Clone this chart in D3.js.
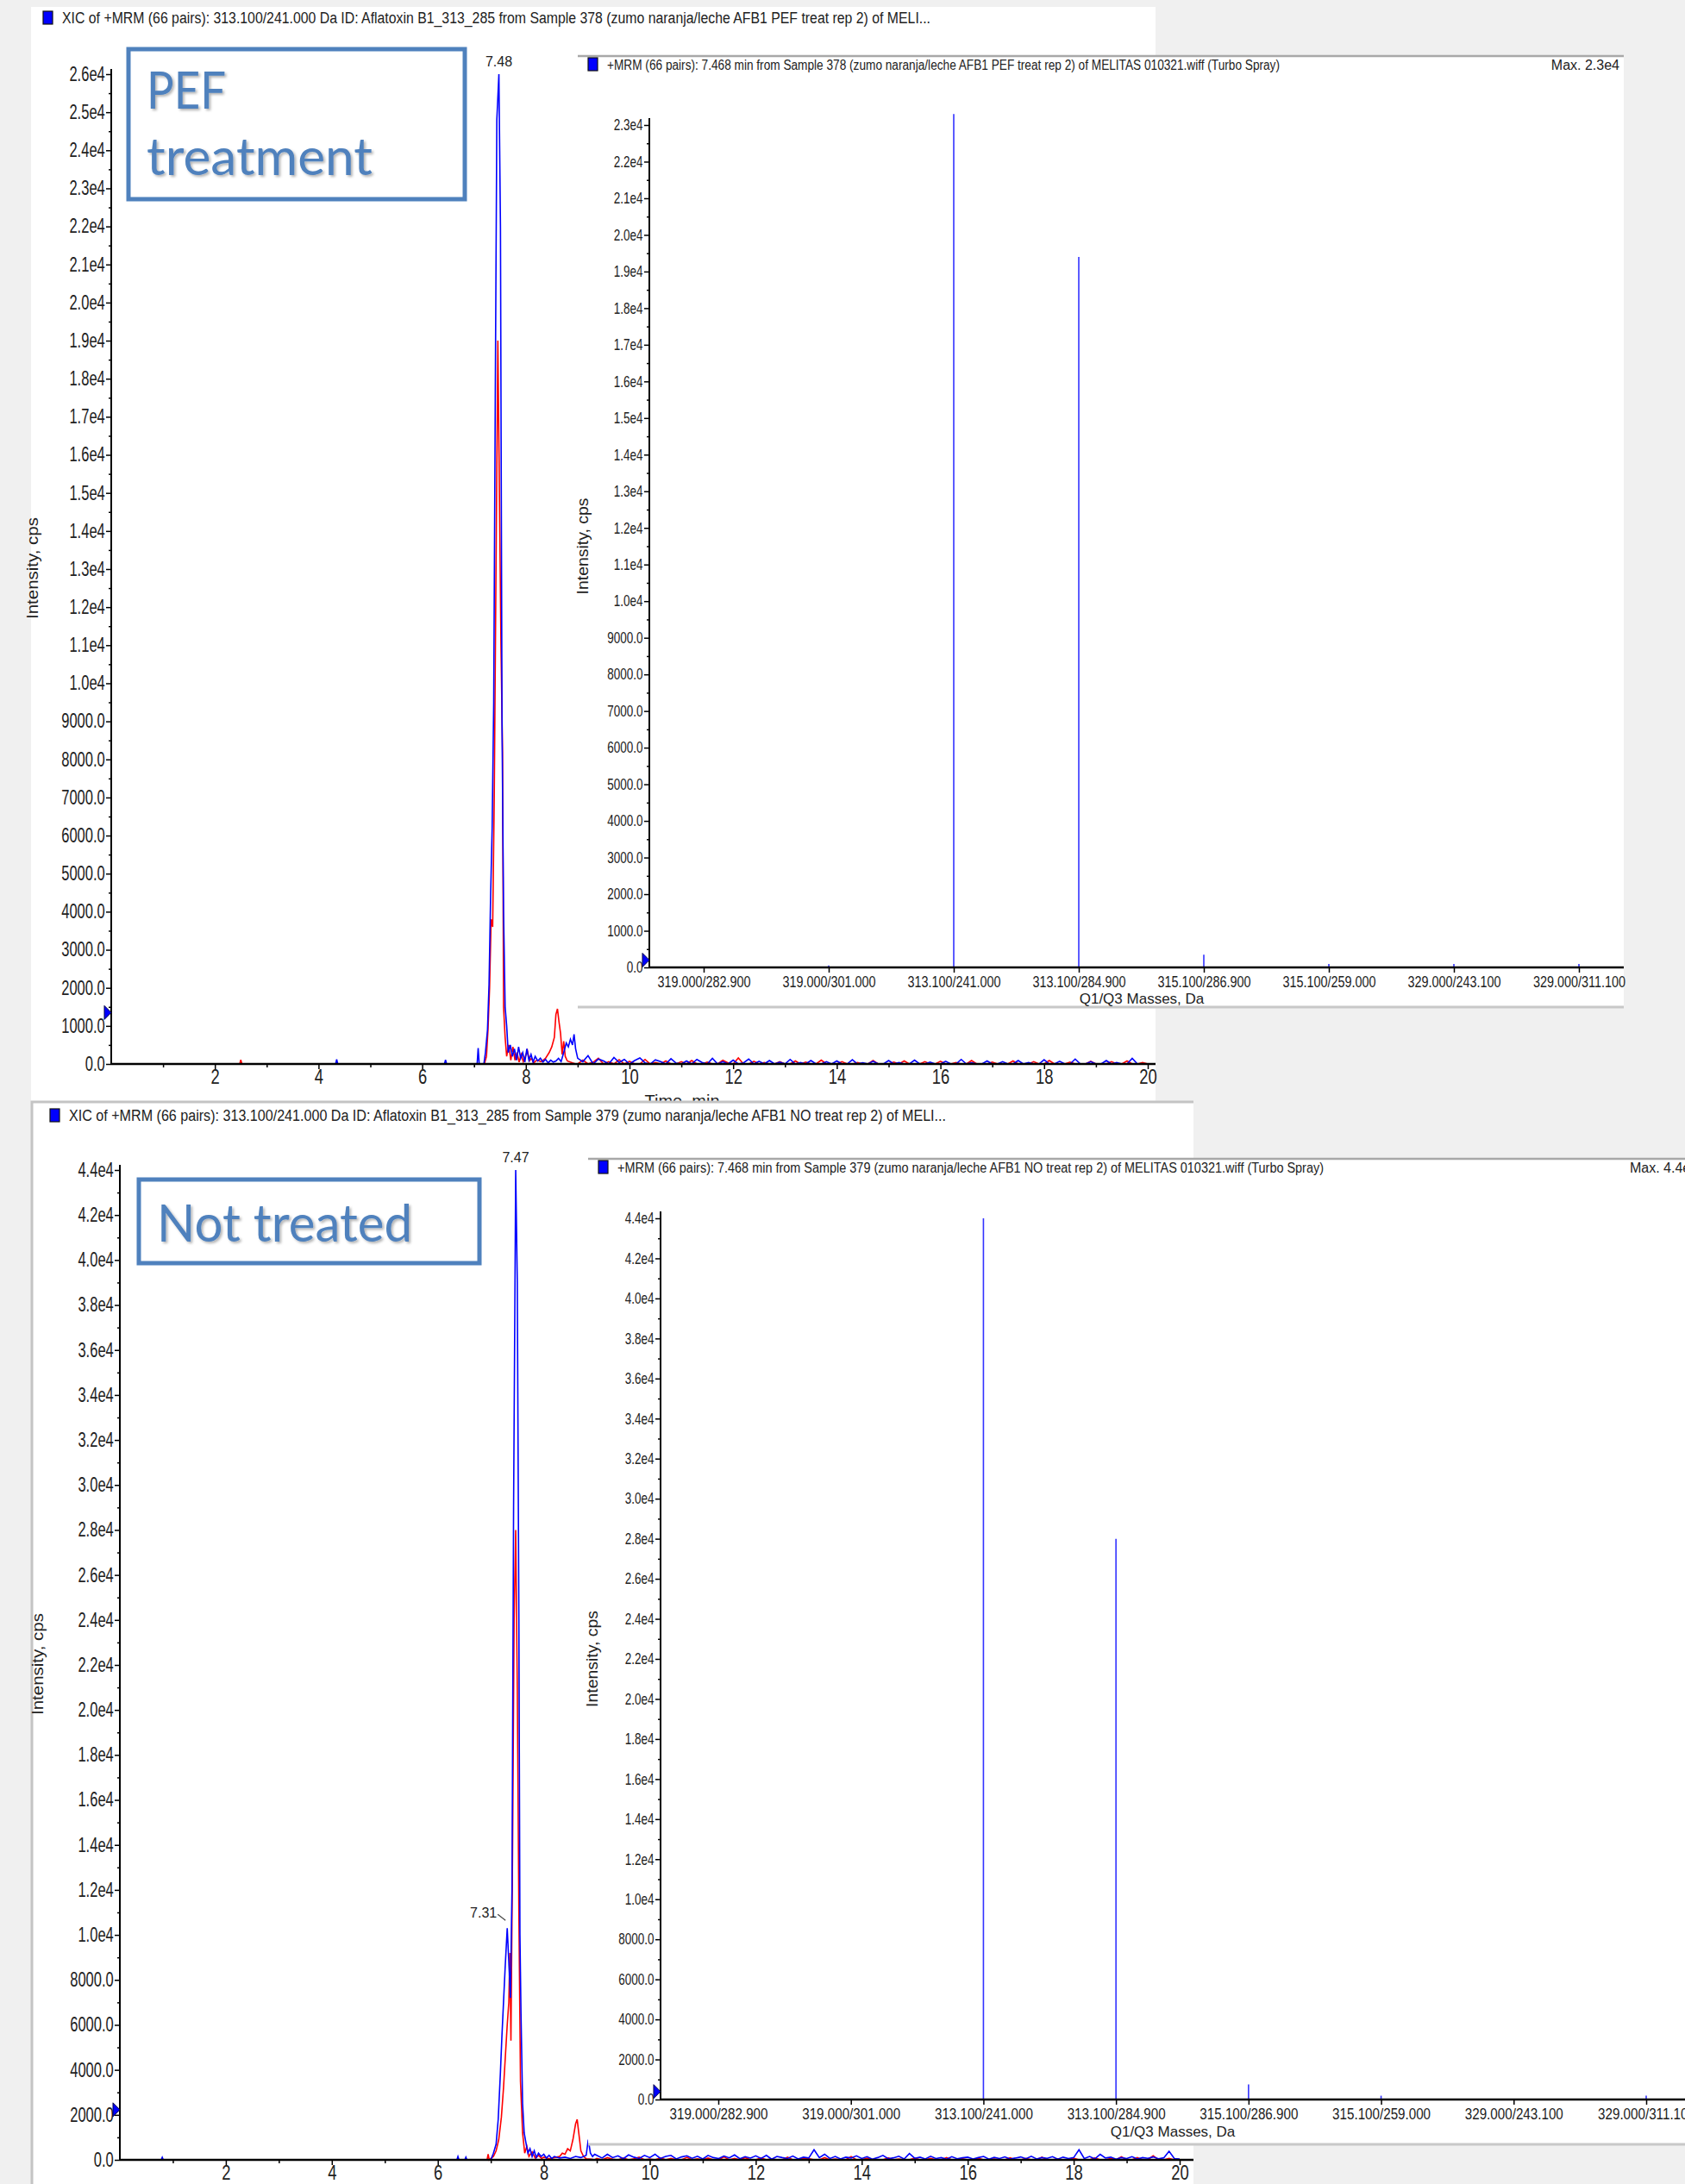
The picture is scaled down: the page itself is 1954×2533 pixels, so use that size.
<!DOCTYPE html>
<html>
<head>
<meta charset="utf-8">
<script src="https://cdn.jsdelivr.net/npm/d3@7"></script>
<style>
  body { margin: 0; background: #f0f0f0; }
  svg text { font-family: "Liberation Sans Narrow", "Arial Narrow", "Liberation Sans", sans-serif; fill: #222; }
  .axis line { stroke: #000; stroke-width: 1.5px; }
  .axis path { display: none; }
  .boxtext { font-family: Lato, "Open Sans", sans-serif !important; fill: #4f81bd !important; }
</style>
</head>
<body>
<svg id="fig" width="1954" height="2533"></svg>
<script>
// ---------- data ----------
const categories = ["319.000/282.900", "319.000/301.000", "313.100/241.000", "313.100/284.900",
                    "315.100/286.900", "315.100/259.000", "329.000/243.100", "329.000/311.100"];
const pefSpectrum = [0, 55, 23300, 19400, 350, 95, 95, 95];
const ntSpectrum = [0, 0, 44000, 28000, 750, 190, 0, 190];

// chromatogram traces: [time, cps] up to 9 min, then noise every 0.1 min from 9.0 to 20.0
const pefBlue = [[0,0],[4.33,0],[4.35,120],[4.37,0],[6.43,0],[6.45,110],[6.47,0],[7.06,0],[7.08,420],[7.10,0],
  [7.19,0],[7.22,300],[7.26,900],[7.29,2100],[7.32,4400],[7.35,6200],[7.38,9500],[7.41,17500],[7.44,24800],
  [7.48,26000],[7.51,22000],[7.54,9000],[7.57,4000],[7.60,1500],[7.63,1000],[7.66,300],[7.70,500],[7.74,200],
  [7.78,400],[7.82,100],[7.86,450],[7.90,150],[7.94,300],[7.98,50],[8.02,400],[8.06,100],[8.10,250],[8.14,50],
  [8.18,200],[8.23,80],[8.28,150],[8.33,50],[8.38,120],[8.43,30],[8.48,100],[8.53,50],[8.58,80],[8.63,150],
  [8.68,60],[8.73,300],[8.78,550],[8.82,450],[8.86,650],[8.90,500],[8.93,780],[8.96,400]];
const pefBlueNoise = [150,60,220,0,130,80,0,170,40,120, 0,90,160,30,0,110,60,0,140,20,
  0,80,0,120,40,0,150,0,60,0, 100,0,30,130,0,70,0,90,0,50, 0,120,0,40,0,90,0,0,60,0,
  80,0,0,110,0,30,0,70,0,0, 90,0,40,0,0,100,0,0,50,0, 0,70,0,0,120,0,30,0,0,80,
  0,0,60,0,0,90,0,40,0,0, 110,0,0,70,0,0,130,0,0,60, 0,0,90,0,40,0,0,150,0,0, 0];
const pefRed = [[0,0],[2.48,0],[2.50,110],[2.52,0],[7.20,0],[7.24,200],[7.27,900],[7.30,2000],[7.33,3800],
  [7.36,3600],[7.39,7000],[7.43,14000],[7.46,19000],[7.49,15000],[7.52,11000],[7.55,8200],[7.57,1500],
  [7.60,700],[7.63,200],[7.67,500],[7.71,100],[7.75,450],[7.79,100],[7.83,300],[7.87,50],[7.91,250],[7.95,60],
  [7.99,200],[8.03,350],[8.07,80],[8.11,150],[8.15,30],[8.21,100],[8.30,60],[8.38,150],[8.45,300],[8.50,450],
  [8.55,700],[8.58,1300],[8.61,1450],[8.64,1100],[8.67,800],[8.70,250],[8.73,600],[8.76,200],[8.80,80],
  [8.90,30],[8.96,0]];
const pefRedNoise = [0,100,0,50,150,0,60,0,110,0, 70,0,0,120,0,40,0,80,0,0, 60,0,90,0,0,50,0,0,100,30,
  0,160,0,0,70,0,40,0,0,60, 0,0,80,0,50,0,0,100,0,0, 0,60,0,0,40,0,0,90,0,0, 0,50,0,80,0,0,0,60,0,0,
  70,0,0,40,0,0,90,0,0,0, 50,0,0,0,80,0,0,0,60,0, 0,90,0,0,0,50,0,0,0,70, 0,0,0,60,0,0,80,0,0,40, 0];

const ntBlue = [[0,0],[0.78,0],[0.80,110],[0.82,0],[6.36,0],[6.38,150],[6.40,0],[6.51,0],[6.53,120],[6.55,0],
  [7.00,0],[7.05,300],[7.10,700],[7.14,1800],[7.18,3800],[7.21,5500],[7.24,7000],[7.27,8500],[7.31,10300],
  [7.34,8800],[7.37,7200],[7.40,12000],[7.43,29000],[7.47,44000],[7.50,39000],[7.53,24000],[7.55,10000],
  [7.57,6500],[7.60,2500],[7.63,1200],[7.66,800],[7.70,300],[7.74,500],[7.78,150],[7.82,400],[7.86,100],
  [7.90,300],[7.95,150],[8.00,250],[8.05,80],[8.10,200],[8.15,60],[8.20,150],[8.30,80],[8.40,120],[8.50,60],
  [8.60,150],[8.70,100],[8.80,200],[8.84,900],[8.88,300],[8.92,150],[8.96,250]];
const ntBlueNoise = [200,80,250,100,180,50,220,120,60,200, 100,250,60,150,200,40,130,180,70,160,
  40,200,100,60,170,90,220,50,140,80, 180,60,200,30,150,100,60,170,40,120, 80,450,100,250,60,150,40,120,80,180,
  60,140,30,100,200,50,90,160,40,280, 70,120,40,160,60,100,30,140,50,90, 120,40,100,150,30,110,60,130,40,80,
  130,50,160,40,100,70,140,30,120,60, 100,450,60,150,40,250,80,120,30,100, 60,140,40,100,70,130,50,90,380,60, 40];
const ntRed = [[0,0],[6.93,0],[6.95,250],[6.97,0],[7.05,150],[7.10,400],[7.15,900],[7.20,1900],[7.24,3200],
  [7.28,4800],[7.31,6000],[7.34,7000],[7.36,9200],[7.38,5300],[7.41,13500],[7.44,24000],[7.47,28000],
  [7.50,21000],[7.53,11000],[7.56,3500],[7.60,1200],[7.64,300],[7.68,600],[7.72,150],[7.78,350],[7.84,80],
  [7.90,200],[7.96,60],[8.00,120],[8.10,50],[8.20,100],[8.30,150],[8.35,300],[8.40,250],[8.45,500],[8.50,400],
  [8.55,900],[8.60,1600],[8.63,1800],[8.66,1200],[8.70,400],[8.75,150],[8.80,50],[8.90,30],[8.96,0]];
const ntRedNoise = [60,0,100,30,0,80,0,50,120,0, 40,0,90,0,60,0,0,110,0,50, 0,80,0,0,130,0,60,0,100,0,
  0,90,0,50,0,0,120,0,0,70, 60,0,0,100,0,40,0,0,150,0, 0,70,0,0,0,90,0,40,0,0, 80,0,0,60,0,0,100,0,0,50,
  0,0,70,0,0,40,0,0,90,0, 0,60,0,0,120,0,0,50,0,0, 70,0,0,0,90,0,0,60,0,140, 0,0,100,0,0,180,0,0,60,0, 0];

const timeTicks = [2, 4, 6, 8, 10, 12, 14, 16, 18, 20];
const timeMinor = [1, 3, 5, 7, 9, 11, 13, 15, 17, 19];
const pefTicks = d3.range(0, 26001, 1000);
const pefSpecTicks = d3.range(0, 23001, 1000);
const ntTicks = d3.range(0, 44001, 2000);

const pefTitle = "XIC of +MRM (66 pairs): 313.100/241.000 Da ID: Aflatoxin B1_313_285 from Sample 378 (zumo naranja/leche AFB1 PEF treat rep 2) of MELI...";
const pefSpecTitle = "+MRM (66 pairs): 7.468 min from Sample 378 (zumo naranja/leche AFB1 PEF treat rep 2) of MELITAS 010321.wiff (Turbo Spray)";
const ntTitle = "XIC of +MRM (66 pairs): 313.100/241.000 Da ID: Aflatoxin B1_313_285 from Sample 379 (zumo naranja/leche AFB1 NO treat rep 2) of MELI...";
const ntSpecTitle = "+MRM (66 pairs): 7.468 min from Sample 379 (zumo naranja/leche AFB1 NO treat rep 2) of MELITAS 010321.wiff (Turbo Spray)";

// ---------- helpers ----------
const svg = d3.select("#fig");
const defs = svg.append("defs");
defs.append("filter").attr("id", "shadow").attr("x", "-10%").attr("y", "-10%").attr("width", "130%").attr("height", "130%")
  .append("feDropShadow").attr("dx", 2).attr("dy", 2).attr("stdDeviation", 1.5)
  .attr("flood-color", "#000").attr("flood-opacity", 0.3);

const fmtY = v => v >= 10000 ? (v / 10000).toFixed(1) + "e4" : v.toFixed(1);

function withNoise(pairs, noise) {
  const pts = pairs.slice();
  noise.forEach((v, i) => pts.push([+(9 + i * 0.1).toFixed(1), v]));
  return pts;
}

function header(g, x, y, text, len, size) {
  g.append("rect").attr("x", x).attr("y", y - 14).attr("width", 11).attr("height", 15)
    .attr("fill", "#0000ff").attr("stroke", "#111").attr("stroke-width", 1.2);
  g.append("text").attr("x", x + 22).attr("y", y).attr("font-size", size)
    .attr("textLength", len).attr("lengthAdjust", "spacingAndGlyphs").text(text);
}

function marker(g, x, y) {
  g.append("path").attr("d", `M${x - 7},${y - 8} L${x + 1},${y} L${x - 7},${y + 8} Z`)
    .attr("fill", "#0000ff").attr("stroke", "#000040").attr("stroke-width", 1);
}

// narrow the tick labels like the instrument software font
function squeeze(sel, k) {
  sel.attr("transform", `scale(${k},1)`);
}

function yAxis(g, y, x0, majors, size, k) {
  const minors = majors.slice(1).map((v, i) => (v + majors[i]) / 2);
  g.append("g").attr("class", "axis").attr("transform", `translate(${x0},0)`)
    .call(d3.axisLeft(y).tickValues(minors).tickSize(3).tickFormat(""));
  g.append("g").attr("class", "axis").attr("transform", `translate(${x0},0)`)
    .call(d3.axisLeft(y).tickValues(majors).tickSize(6).tickPadding(4).tickFormat(fmtY))
    .selectAll("text").attr("font-size", size).attr("fill", "#222").call(squeeze, k);
}

function yLabel(g, x, y, len) {
  g.append("text").attr("transform", `translate(${x},${y}) rotate(-90)`)
    .attr("text-anchor", "middle").attr("font-size", 18)
    .attr("textLength", len).attr("lengthAdjust", "spacingAndGlyphs").text("Intensity, cps");
}

function chromatogram(g, cfg) {
  const x = d3.scaleLinear().domain([0, 20]).range(cfg.xr);
  const y = d3.scaleLinear().domain([0, cfg.ymax]).range(cfg.yr);
  const line = d3.line().x(d => x(d[0])).y(d => y(d[1]));

  yAxis(g, y, cfg.xr[0], cfg.ticks, 23, 0.72);
  g.append("line").attr("x1", cfg.xr[0]).attr("x2", cfg.xr[0]).attr("y1", cfg.yr[0]).attr("y2", cfg.yr[1] - 6)
    .attr("stroke", "#000").attr("stroke-width", 2);

  g.append("path").datum(withNoise(cfg.red, cfg.redNoise)).attr("d", line)
    .attr("fill", "none").attr("stroke", "#ff0000").attr("stroke-width", 1.6);
  g.append("path").datum(withNoise(cfg.blue, cfg.blueNoise)).attr("d", line)
    .attr("fill", "none").attr("stroke", "#0000ff").attr("stroke-width", 1.6);

  g.append("g").attr("class", "axis").attr("transform", `translate(0,${cfg.yr[0]})`)
    .call(d3.axisBottom(x).tickValues(timeMinor).tickSize(4).tickFormat(""));
  g.append("g").attr("class", "axis").attr("transform", `translate(0,${cfg.yr[0]})`)
    .call(d3.axisBottom(x).tickValues(timeTicks).tickSize(6).tickPadding(1).tickFormat(d3.format("d")))
    .selectAll("text").attr("font-size", 23).attr("fill", "#222").call(squeeze, 0.8);
  g.append("line").attr("x1", cfg.xr[0]).attr("x2", cfg.xEnd).attr("y1", cfg.yr[0]).attr("y2", cfg.yr[0])
    .attr("stroke", "#000").attr("stroke-width", 2.5);

  marker(g, cfg.xr[0] - 1, y(cfg.marker));
  g.append("text").attr("x", x(cfg.peak[0])).attr("y", y(cfg.peak[1]) - 9)
    .attr("text-anchor", "middle").attr("font-size", 16).text(cfg.peak[0].toFixed(2));
  return { x, y };
}

function spectrum(g, cfg) {
  g.append("rect").attr("x", cfg.left).attr("y", cfg.top).attr("width", cfg.right - cfg.left)
    .attr("height", cfg.bottom - cfg.top).attr("fill", "#fff");
  g.append("line").attr("x1", cfg.left).attr("x2", cfg.right).attr("y1", cfg.top).attr("y2", cfg.top)
    .attr("stroke", "#a8a8a8").attr("stroke-width", 2.5);
  g.append("line").attr("x1", cfg.left).attr("x2", cfg.right).attr("y1", cfg.bottom).attr("y2", cfg.bottom)
    .attr("stroke", "#c8c8c8").attr("stroke-width", 3);
  header(g, cfg.left + 12, cfg.top + 16, cfg.title, cfg.titleLen, 16);
  g.append("text").attr("x", cfg.maxX).attr("y", cfg.top + 16).attr("text-anchor", cfg.maxAnchor)
    .attr("font-size", 16).text("Max. " + fmtY(cfg.ymax));

  const xc = d3.scalePoint().domain(categories).range(cfg.catRange);
  const y = d3.scaleLinear().domain([0, cfg.ymax]).range(cfg.yr);
  yAxis(g, y, cfg.axisX, cfg.ticks, 18, 0.75);
  g.append("line").attr("x1", cfg.axisX).attr("x2", cfg.axisX).attr("y1", cfg.yr[0]).attr("y2", cfg.yr[1] - 8)
    .attr("stroke", "#000").attr("stroke-width", 2);

  g.selectAll("line.bar").data(categories).join("line").attr("class", "bar")
    .attr("x1", d => xc(d)).attr("x2", d => xc(d))
    .attr("y1", y(0)).attr("y2", (d, i) => y(cfg.values[i]))
    .attr("stroke", "#3333ff").attr("stroke-width", 1.6);

  g.append("g").attr("class", "axis").attr("transform", `translate(0,${cfg.yr[0]})`)
    .call(d3.axisBottom(xc).tickSize(6).tickPadding(4))
    .selectAll("text").attr("font-size", cfg.catSize).attr("fill", "#222").call(squeeze, 0.8);
  g.append("line").attr("x1", cfg.axisX).attr("x2", cfg.right).attr("y1", cfg.yr[0]).attr("y2", cfg.yr[0])
    .attr("stroke", "#000").attr("stroke-width", 2.5);
  marker(g, cfg.axisX - 1, y(cfg.marker));
  g.append("text").attr("x", cfg.xLabel[0]).attr("y", cfg.xLabel[1]).attr("text-anchor", "middle")
    .attr("font-size", 17).text("Q1/Q3 Masses, Da");
  yLabel(g, cfg.yLabelX, (cfg.yr[0] + cfg.yr[1]) / 2, 112);
}

function textBox(g, x, y, w, h, lines, size) {
  g.append("rect").attr("x", x).attr("y", y).attr("width", w).attr("height", h)
    .attr("fill", "#fff").attr("stroke", "#4f81bd").attr("stroke-width", 5);
  lines.forEach(t => {
    g.append("text").attr("class", "boxtext").attr("x", x + 21).attr("y", t.y)
      .attr("font-size", size).attr("filter", "url(#shadow)")
      .attr("textLength", t.len).attr("lengthAdjust", "spacingAndGlyphs").text(t.text);
  });
}

// ---------- top panel: PEF treatment ----------
const pefPanel = svg.append("g");
pefPanel.append("rect").attr("x", 36).attr("y", 8).attr("width", 1304).attr("height", 1270).attr("fill", "#fff");
header(pefPanel, 50, 27, pefTitle, 1007, 18);
chromatogram(pefPanel, {
  xr: [129, 1331], yr: [1234, 86], ymax: 26000, ticks: pefTicks, xEnd: 1340,
  red: pefRed, redNoise: pefRedNoise, blue: pefBlue, blueNoise: pefBlueNoise,
  marker: 1350, peak: [7.48, 26000]
});
yLabel(pefPanel, 44, 659, 118);
pefPanel.append("text").attr("x", 791).attr("y", 1284).attr("text-anchor", "middle").attr("font-size", 20).text("Time, min");
textBox(pefPanel, 149, 57, 390, 174, [{ text: "PEF", y: 126, len: 92 }, { text: "treatment", y: 203, len: 262 }], 60);
spectrum(pefPanel, {
  left: 670, right: 1883, top: 65, bottom: 1168, title: pefSpecTitle, titleLen: 780,
  maxX: 1878, maxAnchor: "end", ymax: 23000, ticks: pefSpecTicks, yr: [1122, 145], axisX: 753,
  catRange: [816, 1831], catSize: 18, values: pefSpectrum, marker: 200,
  xLabel: [1324, 1164], yLabelX: 682
});

// ---------- bottom panel: Not treated ----------
const ntPanel = svg.append("g");
ntPanel.append("rect").attr("x", 36).attr("y", 1277).attr("width", 1348).attr("height", 1260).attr("fill", "#fff");
ntPanel.append("path").attr("d", "M37,2533 V1278 H1384").attr("fill", "none").attr("stroke", "#c4c4c4").attr("stroke-width", 3);
header(ntPanel, 58, 1300, ntTitle, 1017, 18);
const nt = chromatogram(ntPanel, {
  xr: [139, 1368], yr: [2505, 1357], ymax: 44000, ticks: ntTicks, xEnd: 1384,
  red: ntRed, redNoise: ntRedNoise, blue: ntBlue, blueNoise: ntBlueNoise,
  marker: 2230, peak: [7.47, 44000]
});
// secondary apex label 7.31
const sx = nt.x(7.31), sy = nt.y(10300);
ntPanel.append("text").attr("x", sx - 12).attr("y", sy - 12).attr("text-anchor", "end").attr("font-size", 16).text("7.31");
ntPanel.append("line").attr("x1", sx - 11).attr("y1", sy - 16).attr("x2", sx - 2).attr("y2", sy - 9)
  .attr("stroke", "#444").attr("stroke-width", 1.2);
yLabel(ntPanel, 50, 1930, 118);
textBox(ntPanel, 161, 1368, 395, 97, [{ text: "Not treated", y: 1440, len: 296 }], 60);
spectrum(ntPanel, {
  left: 682, right: 1954, top: 1344, bottom: 2487, title: ntSpecTitle, titleLen: 819,
  maxX: 1890, maxAnchor: "start", ymax: 44000, ticks: ntTicks, yr: [2435, 1413], axisX: 766,
  catRange: [833, 1909], catSize: 19, values: ntSpectrum, marker: 400,
  xLabel: [1360, 2478], yLabelX: 693
});
</script>
</body>
</html>
